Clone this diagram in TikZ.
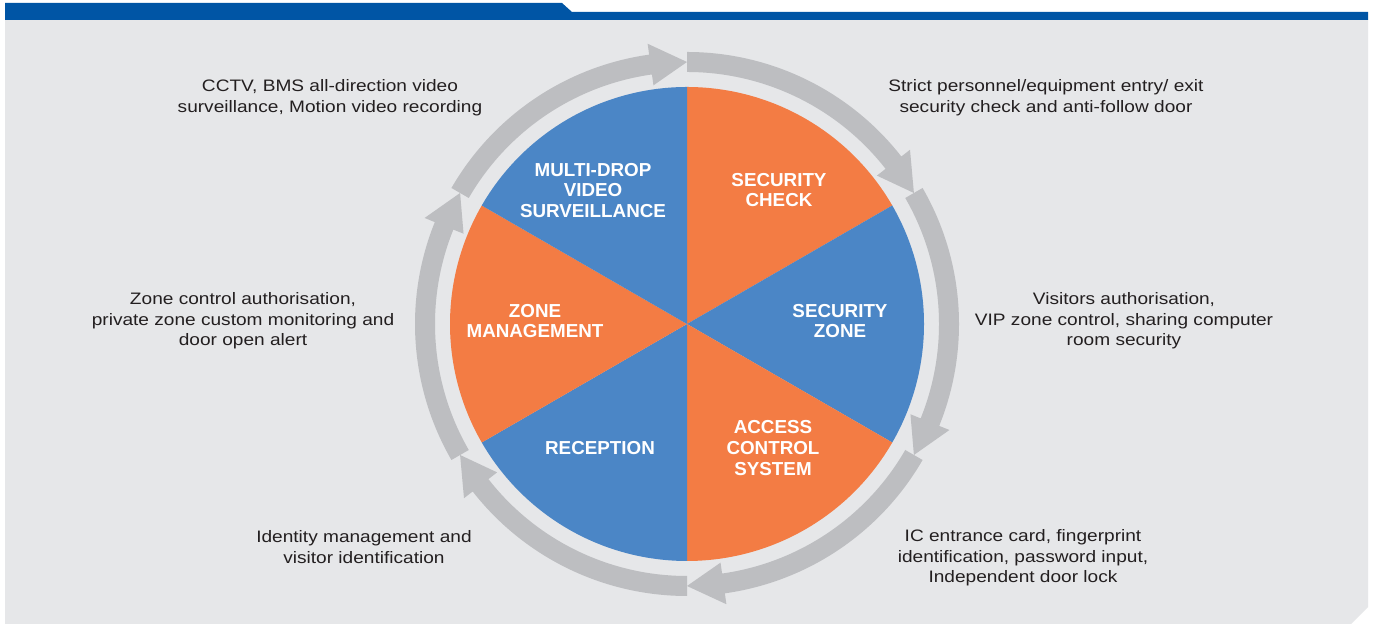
\documentclass[tikz,border=0pt]{standalone}
\usepackage{fontspec}
\setmainfont{Liberation Sans}
\newfontfamily\descfont[FakeStretch=1.15]{Liberation Sans}
\definecolor{panelc}{HTML}{E6E7E9}
\definecolor{bannerc}{HTML}{0055A5}
\definecolor{orangec}{HTML}{F37C44}
\definecolor{bluec}{HTML}{4B86C6}
\definecolor{arrowc}{HTML}{BDBEC1}
\definecolor{textc}{HTML}{231F20}
\tikzset{
  lab/.style={font=\bfseries\fontsize{9.4}{10.3}\selectfont, text=white, align=center, inner sep=0pt},
  desc/.style={font=\descfont\fontsize{8.3}{10.3}\selectfont, text=textc, align=center, inner sep=0pt},
}
\begin{document}
\begin{tikzpicture}[x=0.5pt,y=0.5pt]
\useasboundingbox (0,0) rectangle (1375,624);
\fill[white] (0,0) rectangle (1375,624);
% panel and banner
\fill[panelc] (5,0) -- (5,604) -- (1368,604) -- (1368,17) -- (1351,0) -- cycle;
\fill[bannerc] (5,604) -- (5,621) -- (562,621) -- (572,612) -- (1368,612) -- (1368,604) -- cycle;
% wheel
\begin{scope}[shift={(687,300)}]
  \fill[orangec] (0,0) -- (90:118.5pt) arc[start angle=90, end angle=30, radius=118.5pt] -- cycle;
  \fill[bluec]   (0,0) -- (30:118.5pt) arc[start angle=30, end angle=-30, radius=118.5pt] -- cycle;
  \fill[orangec] (0,0) -- (-30:118.5pt) arc[start angle=-30, end angle=-90, radius=118.5pt] -- cycle;
  \fill[bluec]   (0,0) -- (-90:118.5pt) arc[start angle=-90, end angle=-150, radius=118.5pt] -- cycle;
  \fill[orangec] (0,0) -- (-150:118.5pt) arc[start angle=-150, end angle=-210, radius=118.5pt] -- cycle;
  \fill[bluec]   (0,0) -- (150:118.5pt) arc[start angle=150, end angle=90, radius=118.5pt] -- cycle;
  \foreach \a [evaluate=\a as \b using \a-52, evaluate=\a as \c using \a-60] in {90,30,-30,-90,-150,150}{
    \fill[arrowc] (\a:136pt) arc[start angle=\a, end angle=\b, radius=136pt]
      -- (\b:141.5pt) -- (\c:131pt) -- (\b:120.5pt) -- (\b:126pt)
      arc[start angle=\b, end angle=\a, radius=126pt] -- cycle;
  }
\end{scope}
% sector labels
\node[lab] (msv) at (593,433.5) {MULTI-DROP\\VIDEO\\SURVEILLANCE};
\node[lab] (sc)  at (779,434) {SECURITY\\CHECK};
\node[lab] (zm)  at (535,303) {ZONE\\MANAGEMENT};
\node[lab] (sz)  at (840,303) {SECURITY\\ZONE};
\node[lab] (rc)  at (600,176) {RECEPTION};
\node[lab] (acs) at (773,176) {ACCESS\\CONTROL\\SYSTEM};
% descriptions
\node[desc] (d1) at (330,526) {CCTV, BMS all-direction video\\surveillance, Motion video recording};
\node[desc] (d2) at (1046,526) {Strict personnel/equipment entry/ exit\\security check and anti-follow door};
\node[desc] (d3) at (243,303) {Zone control authorisation,\\private zone custom monitoring and\\door open alert};
\node[desc] (d4) at (1124,303) {Visitors authorisation,\\VIP zone control, sharing computer\\room security};
\node[desc] (d5) at (364,77) {Identity management and\\visitor identification};
\node[desc] (d6) at (1023,66) {IC entrance card, fingerprint\\identification, password input,\\Independent door lock};
\end{tikzpicture}
\end{document}
